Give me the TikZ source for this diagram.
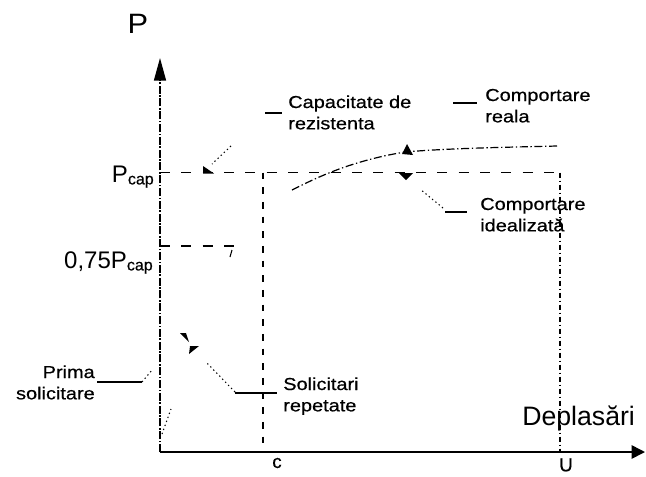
\documentclass[tikz,border=0pt]{standalone}
\usepackage{fontspec}
\setmainfont{Liberation Sans}
\usetikzlibrary{arrows.meta}
\newcommand{\twol}[2]{\scalebox{1.15}[1]{\begin{tabular}[t]{@{}l@{}}#1\\#2\end{tabular}}}
\newcommand{\twor}[2]{\scalebox{1.15}[1]{\begin{tabular}[t]{@{}r@{}}#1\\#2\end{tabular}}}
\begin{document}
\begin{tikzpicture}[x=0.75pt,y=-0.75pt,
  axisline/.style={line width=1.2pt},
  yaxisline/.style={line width=1pt,dash pattern=on 6pt off 1.2pt on 1.2pt off 1.2pt},
  levelline/.style={line width=1.3pt,dash pattern=on 7.5pt off 8.5pt},
  cline/.style={line width=1pt,dash pattern=on 5pt off 6pt},
  uline/.style={line width=0.9pt,dash pattern=on 4pt off 2pt on 1pt off 2pt},
  realline/.style={line width=0.9pt,dash pattern=on 6pt off 2pt on 1pt off 2pt},
  leaderdash/.style={line width=0.9pt},
  leaderdot/.style={line width=0.8pt,dash pattern=on 1pt off 2.2pt},
  tip/.style={fill=black},
  lbl/.style={inner sep=0pt,font=\fontsize{13}{16}\selectfont\addfontfeature{FakeBold=0.5}},
  big/.style={inner sep=0pt,font=\fontsize{18}{22}\selectfont},
  tick/.style={inner sep=0pt,font=\fontsize{14}{16}\selectfont\addfontfeature{FakeBold=0.5}}]
\useasboundingbox (0,0) rectangle (646,476);

% coordinates
\coordinate (O) at (160,452);
\coordinate (Ytop) at (160,58);
\coordinate (Yst) at (160,80);
\coordinate (Xend) at (645,452);
\coordinate (PcL) at (160,172.5);
\coordinate (PcR) at (560,172.5);
\coordinate (CT) at (263,172.5);
\coordinate (CB) at (263,452);
\coordinate (UB) at (560,452);
\coordinate (QL) at (160,246);
\coordinate (QR) at (236,246);

% axes
\draw[yaxisline] (O) -- (Yst);
\draw[axisline,-{Triangle[length=17pt,width=9pt]}] (Yst) -- (Ytop);
\draw[axisline,-{Triangle[length=10pt,width=10pt]}] (O) -- (Xend);

% level lines
\draw[levelline] (PcL) -- (PcR);
\draw[uline] (PcR) -- (UB);
\draw[cline] (CT) -- (CB);
\draw[levelline] (QL) -- (QR);
\draw[line width=0.8pt] (232,250) -- (230,257);

% real behaviour curve
\coordinate (R0) at (292,190);
\coordinate (R1) at (405,152);
\coordinate (R2) at (557,146);
\draw[realline] (R0) .. controls (316,178) and (350,161) .. (R1) .. controls (450,148) and (520,147) .. (R2);

% first loading (faint)
\draw[leaderdot] (162,434) -- (171,409);

% labels
\node[inner sep=0pt,font=\fontsize{21}{24}\selectfont] (P) at (138,24) {\scalebox{1.1}[1]{P}};
\node[big,anchor=base east] (Pcap) at (154,182) {P\raisebox{-0.1em}{\fontsize{12}{12}\selectfont\addfontfeature{FakeBold=0.6}cap}};
\node[big,anchor=base east] (Pq) at (153,268) {0,75P\raisebox{-0.1em}{\fontsize{12}{12}\selectfont\addfontfeature{FakeBold=0.6}cap}};
\node[inner sep=0pt,font=\fontsize{20}{22}\selectfont,anchor=base west] (D) at (522,425) {Deplasări};
\node[tick] (c) at (277,463) {c};
\node[tick] (U) at (566,465) {U};

\node[lbl,anchor=base west] (cap) at (288,108) {\twol{Capacitate de}{rezistenta}};
\node[lbl,anchor=base west] (real) at (485,101) {\twol{Comportare}{reala}};
\node[lbl,anchor=base west] (ideal) at (480,210) {\twol{Comportare}{idealizată}};
\node[lbl,anchor=base west] (rep) at (283,390) {\twol{Solicitari}{repetate}};
\node[lbl,anchor=base east] (prima) at (95,378) {\twor{Prima}{solicitare}};

% leaders
\coordinate (capA) at (265,113); \coordinate (capB) at (282,113);
\draw[leaderdash] (capA) -- (capB);
\draw[leaderdot] (231,146) -- (212,164);
\fill[tip] (203,166) -- (203,173.5) -- (214,173.5) -- cycle;

\draw[leaderdash] (453,103) -- (477,103);
\fill[tip] (407,144) -- (402,154) -- (413,155) -- cycle;

\draw[leaderdash] (445,212) -- (467,212);
\draw[leaderdot] (443,208) -- (420,189);
\fill[tip] (399,173) -- (413,173) -- (406,180) -- cycle;

\draw[leaderdash] (235,393) -- (277,393);
\draw[leaderdot] (235,392) -- (206,362);
\fill[tip] (180,333) -- (186,333) -- (189,342) -- cycle;
\fill[tip] (190,346) -- (199,346) -- (189,354) -- cycle;

\draw[leaderdash] (97,382) -- (142,382);
\draw[leaderdot] (142,382) -- (153,369);
\end{tikzpicture}
\end{document}
